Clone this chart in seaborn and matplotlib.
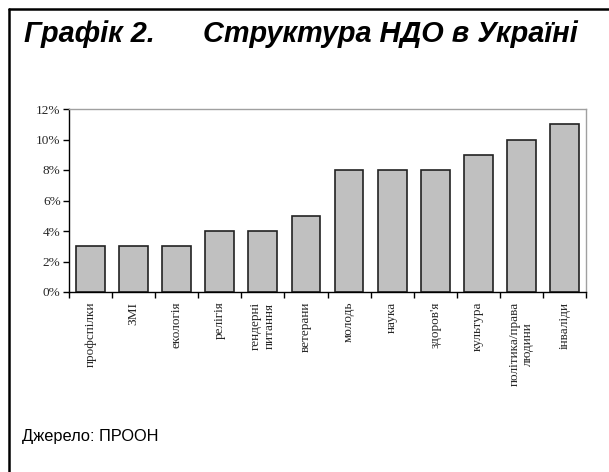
import numpy as np
import pandas as pd
import seaborn as sns
import matplotlib.pyplot as plt
from matplotlib.lines import Line2D
from matplotlib.ticker import FixedLocator, PercentFormatter

categories = ['профспілки', 'ЗМІ', 'екологія', 'релігія', 'гендерні\nпитання',
              'ветерани', 'молодь', 'наука', "здоров'я", 'культура',
              'політика/права\nлюдини', 'інваліди']
shares = [3, 3, 3, 4, 4, 5, 8, 8, 8, 9, 10, 11]

df = pd.DataFrame({'cat': categories, 'share': shares})

sns.set_theme(style='white')
plt.rcParams['font.family'] = ['Liberation Serif', 'DejaVu Serif']

fig = plt.figure(figsize=(6.09, 4.72), dpi=100)
ax = fig.add_axes([69 / 609, 1 - 292 / 472, (586 - 69) / 609, (292 - 109) / 472])

sns.barplot(data=df, x='cat', y='share', color='#c0c0c0', saturation=1,
            edgecolor='#222222', linewidth=1.2, width=0.67, ax=ax)

ax.set_xlim(-0.5, len(categories) - 0.5)
ax.set_ylim(0, 12)
ax.set_yticks(np.arange(0, 13, 2))
ax.yaxis.set_major_formatter(PercentFormatter(decimals=0))
ax.set_xlabel('')
ax.set_ylabel('')

# tick marks sit between the categories
ax.xaxis.set_minor_locator(FixedLocator(np.arange(-0.5, len(categories), 1)))
ax.tick_params(axis='x', which='major', length=0, pad=7, labelsize=9.5,
               labelrotation=90)
ax.tick_params(axis='x', which='minor', bottom=True, length=4, width=1,
               color='black', direction='out')
ax.tick_params(axis='y', left=True, length=4, width=1, color='black',
               direction='out', labelsize=9.5, pad=2)
for lab in ax.get_xticklabels():
    lab.set_multialignment('center')

for side in ['left', 'bottom']:
    ax.spines[side].set_color('black')
    ax.spines[side].set_linewidth(1)
for side in ['top', 'right']:
    ax.spines[side].set_color('#a0a0a0')
    ax.spines[side].set_linewidth(1)

title_font = dict(family='Liberation Sans', fontsize=20.8, fontweight='bold',
                  fontstyle='italic', color='black')
fig.text(24 / 609, 1 - 42 / 472, 'Графік 2.', va='baseline', **title_font)
fig.text(203 / 609, 1 - 42 / 472, 'Структура НДО в Україні', va='baseline',
         **title_font)
fig.text(22 / 609, 1 - 441 / 472, 'Джерело: ПРООН', va='baseline',
         family='Liberation Sans', fontsize=11.8, color='black')

# frame lines on the left and top of the figure
fig.add_artist(Line2D([9 / 609, 9 / 609], [0, 1 - 9 / 472], color='black',
                      linewidth=1.8, transform=fig.transFigure))
fig.add_artist(Line2D([9 / 609, 1], [1 - 9 / 472, 1 - 9 / 472], color='black',
                      linewidth=1.8, transform=fig.transFigure))

fig.savefig('out.png', dpi=100)
